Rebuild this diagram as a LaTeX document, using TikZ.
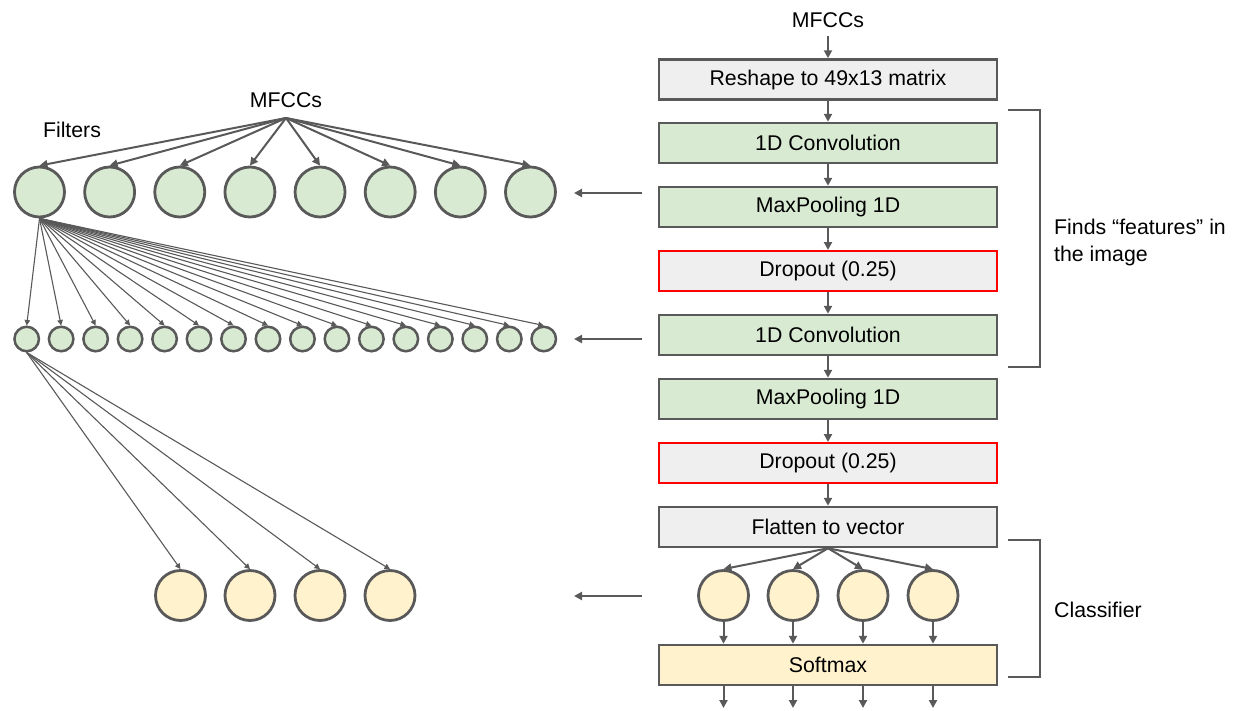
\documentclass[tikz,border=0pt]{standalone}
\usepackage{fontspec}
\setmainfont{Liberation Sans}
\usetikzlibrary{arrows.meta}

\definecolor{edge}{HTML}{595959}
\definecolor{convgreen}{HTML}{D9EAD3}
\definecolor{densey}{HTML}{FFF2CC}
\definecolor{boxgray}{HTML}{EFEFEF}
\definecolor{dropred}{HTML}{FF0000}

\newcommand\lblfont{\fontsize{21.3pt}{27pt}\selectfont}

\tikzset{
  layer/.style={draw=edge, line width=2.5pt, minimum width=338pt, minimum height=40pt,
                inner sep=0pt, font=\lblfont},
  plainbox/.style={layer, fill=boxgray},
  convbox/.style={layer, fill=convgreen},
  dropbox/.style={layer, fill=boxgray, draw=dropred, line width=2pt},
  densebox/.style={layer, fill=densey},
  bigneuron/.style={circle, draw=edge, line width=2.8pt, minimum size=50pt, inner sep=0pt},
  smallneuron/.style={circle, draw=edge, line width=2.5pt, minimum size=24.5pt, inner sep=0pt},
  caption/.style={font=\lblfont, text=black, inner sep=3pt},
  arr/.style={draw=edge, line width=2pt, -{Triangle[length=8pt,width=8pt]}},
  thinarr/.style={draw=edge, line width=1.1pt, -{Triangle[length=5.5pt,width=5.5pt]}},
  bracket/.style={draw=edge, line width=2pt},
}

\begin{document}
\begin{tikzpicture}[x=1pt,y=-1pt]
  \useasboundingbox (0,0) rectangle (1243,710);

  % ---------------- right column: the layer stack ----------------
  \node[caption] (mfccR) at (828,20) {MFCCs};
  \node[plainbox] (reshape) at (828,79.5) {Reshape to 49x13 matrix};
  \node[convbox] (conv1) at (828,143) {1D Convolution};
  \node[convbox] (pool1) at (828,207) {MaxPooling 1D};
  \node[dropbox] (drop1) at (828,271) {Dropout (0.25)};
  \node[convbox] (conv2) at (828,335) {1D Convolution};
  \node[convbox] (pool2) at (828,399) {MaxPooling 1D};
  \node[dropbox] (drop2) at (828,463) {Dropout (0.25)};
  \node[plainbox] (flat) at (828,527) {Flatten to vector};
  \node[densebox] (soft) at (828,665) {Softmax};

  \draw[arr, shorten <=5pt] (mfccR.south) -- (reshape.north);
  \draw[arr] (reshape) -- (conv1);
  \draw[arr] (conv1) -- (pool1);
  \draw[arr] (pool1) -- (drop1);
  \draw[arr] (drop1) -- (conv2);
  \draw[arr] (conv2) -- (pool2);
  \draw[arr] (pool2) -- (drop2);
  \draw[arr] (drop2) -- (flat);

  % dense neurons feeding the softmax
  \foreach \i/\x in {1/723.5, 2/793, 3/863, 4/933} {
    \node[bigneuron, fill=densey] (r\i) at (\x,595.5) {};
    \coordinate (out\i) at (\x,708);
    \draw[arr] (flat.south) -- (r\i.north);
    \draw[arr] (r\i.south) -- (r\i.south |- soft.north);
    \draw[arr] (soft.south -| r\i) -- (out\i);
  }

  % brackets and their labels
  \coordinate (b1a) at (1008,110);
  \coordinate (b1b) at (1040,110);
  \coordinate (b1c) at (1040,367);
  \coordinate (b1d) at (1008,367);
  \draw[bracket] (b1a) -- (b1b) -- (b1c) -- (b1d);
  \node[caption, anchor=west, align=left] (featText) at (1051,242)
    {Finds “features” in\\the image};

  \coordinate (b2a) at (1008,540);
  \coordinate (b2b) at (1040,540);
  \coordinate (b2c) at (1040,677);
  \coordinate (b2d) at (1008,677);
  \draw[bracket] (b2a) -- (b2b) -- (b2c) -- (b2d);
  \node[caption, anchor=west] (clsText) at (1051,610) {Classifier};

  % ---------------- left side: the neurons ----------------
  \node[caption] (mfccL) at (286,100) {MFCCs};
  \node[caption] (filt) at (72,130) {Filters};
  \coordinate (fanTop) at (286,118);

  \foreach \i in {1,...,8} {
    \node[bigneuron, fill=convgreen] (f\i) at ({39.5+70.14*(\i-1)},192) {};
    \draw[arr] (fanTop) -- (f\i.north);
  }

  \foreach \i in {1,...,16} {
    \node[smallneuron, fill=convgreen] (s\i) at ({26.7+34.47*(\i-1)},339) {};
    \draw[thinarr] (f1.south) -- (s\i.north);
  }

  \foreach \i/\x in {1/180.5, 2/250, 3/320, 4/390} {
    \node[bigneuron, fill=densey] (y\i) at (\x,595.5) {};
    \draw[thinarr] (s1.south) -- (y\i.north);
  }

  % arrows linking each layer to its neurons
  \foreach \k/\y in {1/193, 2/339, 3/596} {
    \coordinate (la\k) at (642,\y);
    \coordinate (lb\k) at (574,\y);
    \draw[arr, line width=2.5pt] (la\k) -- (lb\k);
  }
\end{tikzpicture}
\end{document}
